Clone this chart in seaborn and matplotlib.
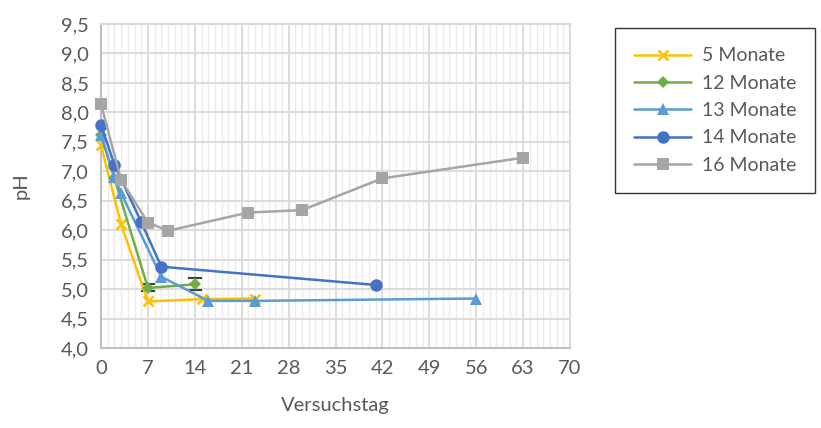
import pandas as pd
import matplotlib.pyplot as plt
import numpy as np
import seaborn as sns
from matplotlib.ticker import MultipleLocator, FuncFormatter

# pH-Verlauf je Lagerdauer
tage_5 = [0, 3, 7, 15, 23]
ph_5 = [7.44, 6.10, 4.79, 4.83, 4.84]

tage_12 = [0, 2, 7, 14]
ph_12 = [7.62, 6.88, 5.02, 5.08]
err_12 = [0, 0, 0.06, 0.10]

tage_13 = [0, 2, 3, 9, 16, 23, 56]
ph_13 = [7.62, 6.90, 6.63, 5.21, 4.80, 4.80, 4.84]

tage_14 = [0, 2, 6, 9, 41]
ph_14 = [7.79, 7.11, 6.14, 5.38, 5.07]

tage_16 = [0, 3, 7, 10, 22, 30, 42, 63]
ph_16 = [8.14, 6.85, 6.13, 5.99, 6.30, 6.34, 6.88, 7.23]

labels = ['5 Monate', '12 Monate', '13 Monate', '14 Monate', '16 Monate']
colors = ['#FFC000', '#70AD47', '#5B9BD5', '#4472C4', '#A5A5A5']
markers = ['x', 'D', '^', 'o', 's']
sizes = [7, 6, 8, 9, 9]

series = [(tage_5, ph_5), (tage_12, ph_12), (tage_13, ph_13),
          (tage_14, ph_14), (tage_16, ph_16)]

sns.set_style('white')
plt.rcParams['font.family'] = ['Lato', 'DejaVu Sans']
text_col = '#595959'

fig = plt.figure(figsize=(8.21, 4.28), dpi=100)
ax = fig.add_axes([101 / 821, 1 - 348 / 428, 469 / 821, 324 / 428])

for (x, y), lab, c, m, s in zip(series, labels, colors, markers, sizes):
    df = pd.DataFrame({'Versuchstag': x, 'pH': y})
    sns.lineplot(data=df, x='Versuchstag', y='pH', ax=ax, color=c, marker=m,
                 markersize=s, markeredgecolor=c, markeredgewidth=1.8 if m == 'x' else 0,
                 linewidth=1.8, label=lab, zorder=3, clip_on=False)

# Fehlerbalken 12 Monate
ax.errorbar(tage_12[2:], ph_12[2:], yerr=err_12[2:], fmt='none', ecolor='#404040',
            elinewidth=1, capsize=5, capthick=1.5, zorder=2)

ax.set_xlim(0, 70)
ax.set_ylim(4.0, 9.5)
ax.set_xticks(list(range(0, 70, 7)) + [70])
ax.xaxis.set_minor_locator(MultipleLocator(1))
ax.yaxis.set_major_locator(MultipleLocator(0.5))
ax.yaxis.set_major_formatter(FuncFormatter(lambda v, p: f'{v:.1f}'.replace('.', ',')))

ax.grid(which='major', color='#D9D9D9', linewidth=1.3)
ax.grid(which='minor', axis='x', color='#EBEBEB', linewidth=1)
ax.set_axisbelow(True)
for sp in ax.spines.values():
    sp.set_color('#BFBFBF')
    sp.set_linewidth(1.5)
ax.spines['top'].set_color('#D9D9D9')
ax.spines['right'].set_color('#D9D9D9')

ax.tick_params(which='both', length=0, labelsize=14.5, colors=text_col, pad=9)
ax.set_xlabel('Versuchstag', fontsize=14.5, color=text_col, labelpad=14)
ax.set_ylabel('pH', fontsize=14.5, color=text_col, labelpad=22)

leg = ax.legend(loc='upper left', bbox_to_anchor=(615 / 821, 1 - 28 / 428),
                bbox_transform=fig.transFigure, frameon=True, fancybox=False,
                fontsize=14, labelcolor=text_col, borderpad=1.0,
                handlelength=2.9, labelspacing=0.53, borderaxespad=0,
                handletextpad=0.55)
leg.get_frame().set_edgecolor('#000000')
leg.get_frame().set_linewidth(1)

fig.savefig('out.png', dpi=100)
